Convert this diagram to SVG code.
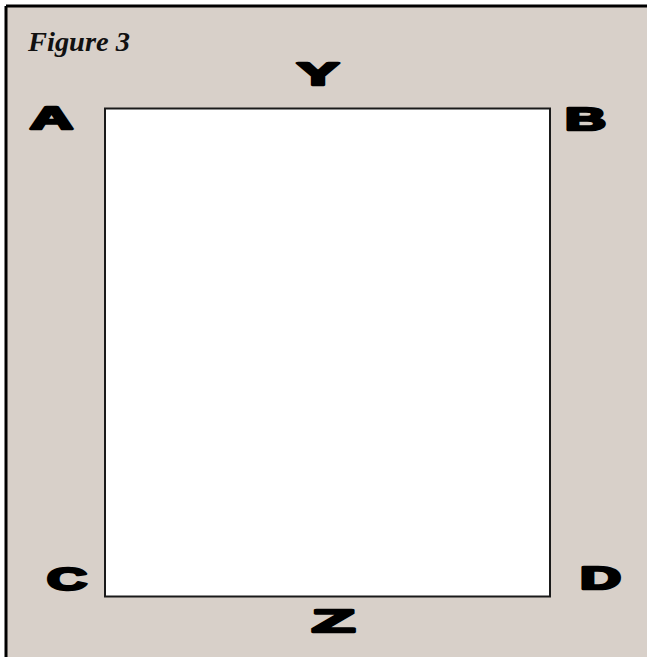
<svg xmlns="http://www.w3.org/2000/svg" width="647" height="658" viewBox="0 0 647 658">
  <style>
    .lbl { font-family: "Liberation Sans", Arial, sans-serif; font-weight: bold; font-size: 31px; fill: #000; stroke: #000; stroke-width: 2.6; stroke-linejoin: round; }
    .title { font-family: "Liberation Serif", "Times New Roman", serif; font-weight: bold; font-style: italic; font-size: 27px; fill: #111; }
  </style>
  <rect x="0" y="0" width="647" height="658" fill="#ffffff"/>
  <rect x="6" y="6" width="641" height="651" fill="#d8d0c9"/>
  <line x1="6" y1="6" x2="647" y2="6" stroke="#000" stroke-width="3"/>
  <line x1="6" y1="6" x2="6" y2="657" stroke="#000" stroke-width="3"/>
  <text class="title" x="28" y="51" textLength="102" lengthAdjust="spacingAndGlyphs">Figure 3</text>
  <g id="frame">
    <rect x="105" y="108.5" width="445" height="488" fill="#ffffff" stroke="#1a1a1a" stroke-width="2"/>
  </g>
  <g id="connectors"></g>
  <g id="label-Y"><text class="lbl" x="297" y="85" textLength="42" lengthAdjust="spacingAndGlyphs">Y</text></g>
  <g id="label-A"><text class="lbl" x="30" y="129" textLength="43" lengthAdjust="spacingAndGlyphs">A</text></g>
  <g id="label-B"><text class="lbl" x="565" y="130" textLength="41" lengthAdjust="spacingAndGlyphs">B</text></g>
  <g id="label-C"><text class="lbl" x="47" y="590" textLength="40" lengthAdjust="spacingAndGlyphs">C</text></g>
  <g id="label-D"><text class="lbl" x="580" y="589" textLength="41" lengthAdjust="spacingAndGlyphs">D</text></g>
  <g id="label-Z"><text class="lbl" x="312" y="632" textLength="43" lengthAdjust="spacingAndGlyphs">Z</text></g>
</svg>
